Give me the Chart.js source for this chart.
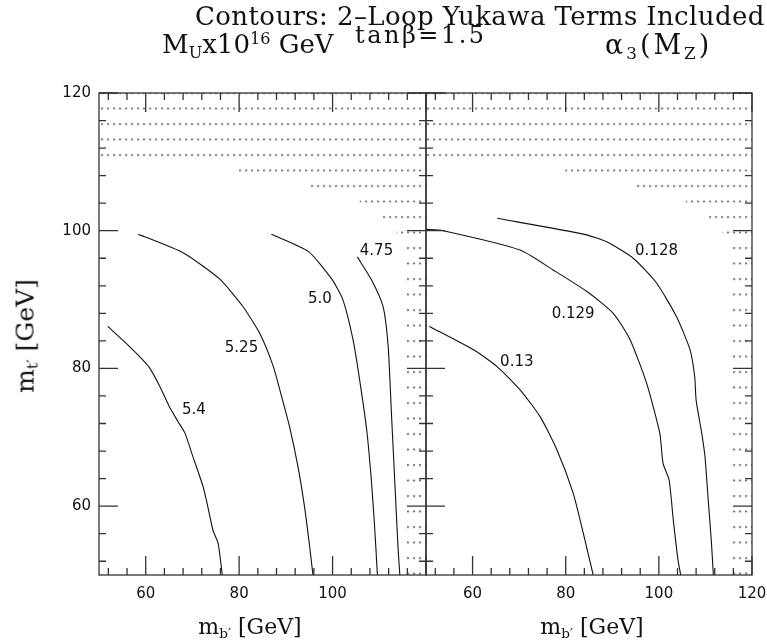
<!DOCTYPE html>
<html>
<head>
<meta charset="utf-8">
<script src="https://cdn.jsdelivr.net/npm/chart.js@4.4.0/dist/chart.umd.min.js"></script>
<style>
  body { margin: 0; background: #fff; }
  #quadro { position: relative; width: 767px; height: 642px; overflow: hidden; background: #fff; }
  #quadro canvas { position: absolute; left: 0; top: 0; }
  .txt { position: absolute; white-space: nowrap; font-family: "DejaVu Serif", serif; color: #111; line-height: 1; }
  .sub { font-size: 0.62em; vertical-align: -0.28em; }
  .sup { font-size: 0.62em; vertical-align: 0.55em; }
</style>
</head>
<body>
<div id="quadro">
  <canvas id="graficoMU" width="767" height="642"></canvas>
  <canvas id="graficoAlfa" width="767" height="642"></canvas>

  <div class="txt" style="left:195px; top:3px; font-size:26px; letter-spacing:0.4px;">Contours: 2–Loop Yukawa Terms Included</div>
  <div class="txt" style="left:162px; top:31px; font-size:26px;">M<span class="sub">U</span>x10<span class="sup">16</span> GeV</div>
  <div class="txt" style="left:355px; top:23px; font-size:24px; letter-spacing:2.5px;">tanβ=1.5</div>
  <div class="txt" style="left:605px; top:31px; font-size:27px; letter-spacing:3px;">α<span class="sub">3</span>(M<span class="sub">Z</span>)</div>

  <div class="txt" style="left:27px; top:336px; font-size:25px; transform: translate(-50%,-50%) rotate(-90deg);">m<span class="sub">t′</span> [GeV]</div>
  <div class="txt" style="left:250px; top:628px; font-size:22px; transform: translate(-50%,-50%);">m<span class="sub">b′</span> [GeV]</div>
  <div class="txt" style="left:592px; top:628px; font-size:22px; transform: translate(-50%,-50%);">m<span class="sub">b′</span> [GeV]</div>
</div>

<script>
// EIXOS (GeV)
const eixoMin = 50;
const eixoMax = 120;
const marcasEixo = [52, 56, 60, 64, 68, 72, 76, 80, 84, 88, 92, 96, 100, 104, 108, 112, 116, 120];
const rotulosY = [60, 80, 100, 120];
const rotulosXEsquerda = [60, 80, 100];
const rotulosXDireita = [60, 80, 100, 120];

// REGIAO EXCLUIDA (pontilhada), contorno em degraus
const excluidaX = [121, 49, 49, 79.9, 79.9, 95.1, 95.1, 105.8, 105.8, 110.5, 110.5, 113.7, 113.7, 115.2, 115.2, 121];
const excluidaY = [121, 121, 109.8, 109.8, 107.6, 107.6, 105.3, 105.3, 103.1, 103.1, 100.8, 100.8, 98.5, 98.5, 49, 49];

// CONTORNOS M_U x 10^16 GeV
const mu540X = [51.9, 55.1, 58.7, 60.9, 63.0, 65.1, 66.9, 68.4, 70.1, 72.3, 73.3, 74.4, 75.5, 76.4];
const mu540Y = [86.1, 84.1, 81.7, 80.0, 77.4, 74.4, 72.3, 70.6, 67.2, 62.8, 59.9, 56.5, 54.6, 50.0];
const mu525X = [58.4, 68.0, 75.8, 80.8, 84.4, 87.3, 89.1, 90.8, 92.6, 94.0, 95.1, 95.8];
const mu525Y = [99.5, 96.8, 93.0, 89.0, 85.1, 80.3, 75.9, 71.5, 65.7, 59.9, 54.1, 50.0];
const mu500X = [86.9, 94.8, 99.8, 102.2, 104.4, 105.8, 107.3, 108.3, 109.0, 109.6];
const mu500Y = [99.5, 97.0, 93.0, 90.0, 84.1, 78.3, 71.1, 63.8, 57.0, 50.0];
const mu475X = [105.3, 108.3, 110.8, 111.9, 112.6, 113.3, 114.0, 114.4];
const mu475Y = [96.2, 92.9, 89.0, 83.2, 73.5, 63.8, 54.1, 50.0];
const rotulosMU = [
  { texto: "4.75", x: 109.4, y: 97.0 },
  { texto: "5.0", x: 97.3, y: 90.0 },
  { texto: "5.25", x: 80.5, y: 82.9 },
  { texto: "5.4", x: 70.3, y: 73.9 }
];

// CONTORNOS alfa_3(M_Z)
const a128X = [65.3, 83.8, 88.8, 94.5, 99.5, 103.8, 106.7, 107.7, 108.0, 109.2, 109.9, 110.6, 111.3, 111.7];
const a128Y = [101.8, 99.5, 98.4, 96.0, 92.4, 87.5, 82.7, 78.8, 75.4, 70.6, 67.2, 60.9, 54.6, 50.0];
const a129X = [50.0, 53.7, 70.2, 77.3, 84.5, 90.2, 93.8, 97.4, 100.2, 100.9, 102.2, 103.1, 104.1, 104.7];
const a129Y = [100.2, 100.0, 97.2, 94.3, 91.2, 88.0, 84.2, 77.8, 70.6, 66.2, 63.8, 58.0, 52.2, 50.0];
const a130X = [50.7, 60.2, 65.2, 70.2, 74.5, 78.1, 81.6, 83.8, 85.9];
const a130Y = [86.1, 82.7, 80.3, 76.9, 73.0, 68.2, 61.9, 56.0, 50.0];
const rotulosAlfa = [
  { texto: "0.128", x: 99.5, y: 97.0 },
  { texto: "0.129", x: 81.6, y: 87.9 },
  { texto: "0.13", x: 69.5, y: 80.9 }
];

const fonteNumeros = { family: "'DejaVu Sans', sans-serif", size: 15 };

// padrao de pontinhos da regiao excluida
function criaPadraoPontos() {
  const c = document.createElement('canvas');
  c.width = 6;
  c.height = 31;
  const g = c.getContext('2d');
  g.fillStyle = '#111';
  g.fillRect(0, 0, 1.5, 1.5);
  g.fillRect(0, 15.5, 1.5, 1.5);
  return g.createPattern(c, 'repeat');
}

const pontos = (xs, ys) => xs.map((v, i) => ({ x: v, y: ys[i] }));

// moldura, marcas para dentro e rotulos das curvas
const moldura = {
  id: 'moldura',
  afterLayout(chart) {
    const a = chart.chartArea;
    const padrao = chart.data.datasets[0].backgroundColor;
    padrao.setTransform(new DOMMatrix([1, 0, 0, 1, a.right - 0.75, a.top - 0.75]));
  },
  afterDatasetsDraw(chart, args, opts) {
    const { ctx, chartArea: a, scales: { x, y } } = chart;
    ctx.save();
    ctx.strokeStyle = '#333';
    ctx.lineWidth = 1.3;
    ctx.strokeRect(a.left, a.top, a.right - a.left, a.bottom - a.top);
    ctx.beginPath();
    x.ticks.forEach(t => {
      const px = x.getPixelForValue(t.value);
      const len = t.value % 20 === 0 ? 19 : 7;
      ctx.moveTo(px, a.bottom); ctx.lineTo(px, a.bottom - len);
      ctx.moveTo(px, a.top); ctx.lineTo(px, a.top + len);
    });
    y.ticks.forEach(t => {
      const py = y.getPixelForValue(t.value);
      const len = t.value % 20 === 0 ? 19 : 7;
      ctx.moveTo(a.left, py); ctx.lineTo(a.left + len, py);
      ctx.moveTo(a.right, py); ctx.lineTo(a.right - len, py);
    });
    ctx.stroke();

    ctx.fillStyle = '#111';
    ctx.font = fonteNumeros.size + 'px ' + fonteNumeros.family;
    ctx.textAlign = 'center';
    ctx.textBaseline = 'middle';
    opts.rotulos.forEach(r => {
      ctx.fillText(r.texto, x.getPixelForValue(r.x), y.getPixelForValue(r.y));
    });
    ctx.restore();
  }
};

function criaGrafico(idCanvas, curvas, rotulos, rotulosX, esquerda) {
  const datasets = [{
    data: pontos(excluidaX, excluidaY),
    borderColor: 'transparent',
    borderWidth: 0,
    pointRadius: 0,
    tension: 0,
    fill: 'shape',
    backgroundColor: criaPadraoPontos()
  }];
  curvas.forEach(c => {
    datasets.push({
      data: pontos(c[0], c[1]),
      borderColor: '#111',
      borderWidth: 1.1,
      pointRadius: 0,
      tension: 0.2,
      fill: false
    });
  });

  return new Chart(document.getElementById(idCanvas), {
    type: 'line',
    data: { datasets },
    options: {
      responsive: false,
      animation: false,
      events: [],
      layout: {
        padding: esquerda ? { top: 93, right: 341, bottom: 0, left: 0 } : { top: 93, right: 15, bottom: 0, left: 426 }
      },
      plugins: {
        legend: { display: false },
        tooltip: { enabled: false },
        moldura: { rotulos }
      },
      scales: {
        x: {
          type: 'linear',
          min: eixoMin,
          max: eixoMax,
          afterBuildTicks: s => { s.ticks = marcasEixo.map(v => ({ value: v })); },
          afterFit: s => { s.height = 67; s.paddingLeft = 0; s.paddingRight = 0; },
          grid: { display: false, drawTicks: false },
          border: { display: false },
          ticks: {
            autoSkip: false,
            maxRotation: 0,
            padding: 10,
            color: '#111',
            font: fonteNumeros,
            callback: v => rotulosX.includes(v) ? String(v) : ''
          }
        },
        y: {
          type: 'linear',
          min: eixoMin,
          max: eixoMax,
          afterBuildTicks: s => { s.ticks = marcasEixo.map(v => ({ value: v })); },
          afterFit: s => { s.width = esquerda ? 99 : 0; s.paddingTop = 0; s.paddingBottom = 0; },
          grid: { display: false, drawTicks: false },
          border: { display: false },
          ticks: {
            display: esquerda,
            autoSkip: false,
            padding: 8,
            color: '#111',
            font: fonteNumeros,
            callback: v => rotulosY.includes(v) ? String(v) : ''
          }
        }
      }
    },
    plugins: [moldura]
  });
}

// GRAFICO M_U
const graficoMU = criaGrafico('graficoMU',
  [[mu540X, mu540Y], [mu525X, mu525Y], [mu500X, mu500Y], [mu475X, mu475Y]],
  rotulosMU, rotulosXEsquerda, true);

// GRAFICO ALFA_3
const graficoAlfa = criaGrafico('graficoAlfa',
  [[a128X, a128Y], [a129X, a129Y], [a130X, a130Y]],
  rotulosAlfa, rotulosXDireita, false);
</script>
</body>
</html>
